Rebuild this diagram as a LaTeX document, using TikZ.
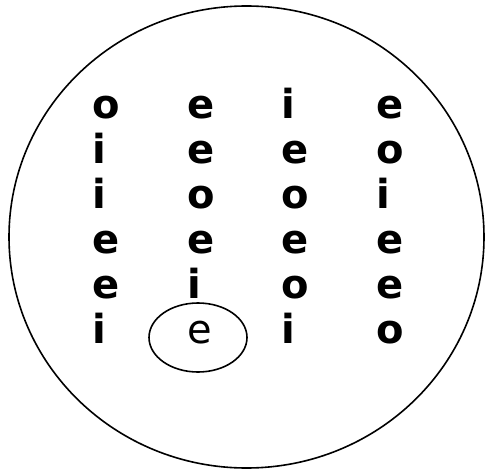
\documentclass[tikz,border=0pt]{standalone}
\usepackage{fontspec}
\setmainfont{DejaVu Sans}
\begin{document}
\begin{tikzpicture}[x=1pt,y=-1pt,
  letter/.style={anchor=base west,inner sep=0pt,font=\fontsize{40}{40}\selectfont\bfseries},
  plainletter/.style={anchor=base west,inner sep=0pt,font=\fontsize{40}{40}\selectfont},
  ring/.style={draw=black,line width=1.6pt}]
\useasboundingbox (0,0) rectangle (485,471);
\draw[ring] (246.5,237) ellipse [x radius=237.5, y radius=231];
% rows
\node[letter] (r1c1) at (92,118) {o};
\node[letter] (r1c2) at (187,118) {e};
\node[letter] (r1c3) at (281,118) {i};
\node[letter] (r1c4) at (376,118) {e};
\node[letter] (r2c1) at (92,163) {i};
\node[letter] (r2c2) at (187,163) {e};
\node[letter] (r2c3) at (281,163) {e};
\node[letter] (r2c4) at (376,163) {o};
\node[letter] (r3c1) at (92,208) {i};
\node[letter] (r3c2) at (187,208) {o};
\node[letter] (r3c3) at (281,208) {o};
\node[letter] (r3c4) at (376,208) {i};
\node[letter] (r4c1) at (92,253) {e};
\node[letter] (r4c2) at (187,253) {e};
\node[letter] (r4c3) at (281,253) {e};
\node[letter] (r4c4) at (376,253) {e};
\node[letter] (r5c1) at (92,298) {e};
\node[letter] (r5c2) at (187,298) {i};
\node[letter] (r5c3) at (281,298) {o};
\node[letter] (r5c4) at (376,298) {e};
\node[letter] (r6c1) at (92,343) {i};
\node[plainletter] (r6c2) at (187,343) {e};
\node[letter] (r6c3) at (281,343) {i};
\node[letter] (r6c4) at (376,343) {o};
\draw[ring] (198,337.5) ellipse [x radius=49, y radius=34.5];
\end{tikzpicture}
\end{document}
